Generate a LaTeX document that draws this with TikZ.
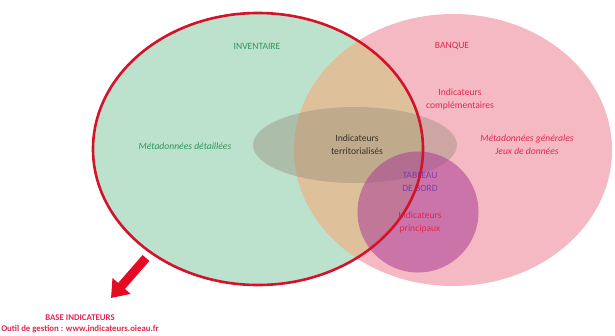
\documentclass[tikz,border=0pt]{standalone}
\usepackage{fontspec}
\setmainfont{Carlito}
\usetikzlibrary{arrows.meta}
\definecolor{invfill}{RGB}{188,226,206}
\definecolor{bqfill}{RGB}{245,185,196}
\definecolor{tanfill}{RGB}{222,192,155}
\definecolor{grayfill}{RGB}{150,140,120}
\definecolor{tbfill}{RGB}{170,60,150}
\definecolor{redline}{RGB}{212,18,42}
\definecolor{arrowred}{RGB}{228,10,35}
\definecolor{greentxt}{RGB}{50,150,90}
\definecolor{redtxt}{RGB}{222,40,80}
\definecolor{purpletxt}{RGB}{130,60,170}
\definecolor{darktxt}{RGB}{55,50,40}
\tikzset{
  lbl/.style={font=\fontsize{9.6}{13}\selectfont, align=center, inner sep=0pt},
  lblit/.style={lbl, font=\fontsize{9.6}{13}\selectfont\itshape},
}
\begin{document}
\begin{tikzpicture}[x=1pt,y=-1pt]
\useasboundingbox (0,0) rectangle (615,335);
% BANQUE
\fill[bqfill] (453,150) ellipse [x radius=159, y radius=136];
% INVENTAIRE fill
\fill[invfill] (258,149) ellipse [x radius=165, y radius=136];
% intersection
\begin{scope}
  \clip (258,149) ellipse [x radius=165, y radius=136];
  \fill[tanfill] (453,150) ellipse [x radius=159, y radius=136];
\end{scope}
% Indicateurs territorialises
\fill[grayfill, fill opacity=0.42] (355,145) ellipse [x radius=102, y radius=38];
% Tableau de bord
\fill[tbfill, fill opacity=0.55] (418,212) circle [radius=60.5];
% labels
\node[lbl, text=greentxt] (inv) at (257,46) {INVENTAIRE};
\node[lblit, text=greentxt] (metad) at (185,146) {Métadonnées détaillées};
\node[lbl, text=redtxt] (bq) at (452,46) {BANQUE};
\node[lbl, text=redtxt] (compl) at (460,99) {Indicateurs\\complémentaires};
\node[lblit, text=redtxt] (metag) at (527,145) {Métadonnées générales\\Jeux de données};
\node[lbl, text=darktxt] (terr) at (357,145) {Indicateurs\\territorialisés};
\node[lbl, text=purpletxt] (tb) at (420,182) {TABLEAU\\DE BORD};
\node[lbl, text=redtxt] (princ) at (420,222) {Indicateurs\\principaux};
% red outline of INVENTAIRE
\draw[redline, line width=2.6pt] (258,149) ellipse [x radius=165, y radius=136];
% arrow
\coordinate (atail) at (146,258);
\coordinate (ahead) at (111,298);
\draw[arrowred, line width=9pt, -{Triangle[length=16pt,width=23pt]}] (atail) -- (ahead);
\node[lbl, text=redtxt, font=\fontsize{8.8}{10.5}\selectfont\bfseries] (base) at (80,324) {BASE INDICATEURS\\Outil de gestion : www.indicateurs.oieau.fr};
\end{tikzpicture}
\end{document}
